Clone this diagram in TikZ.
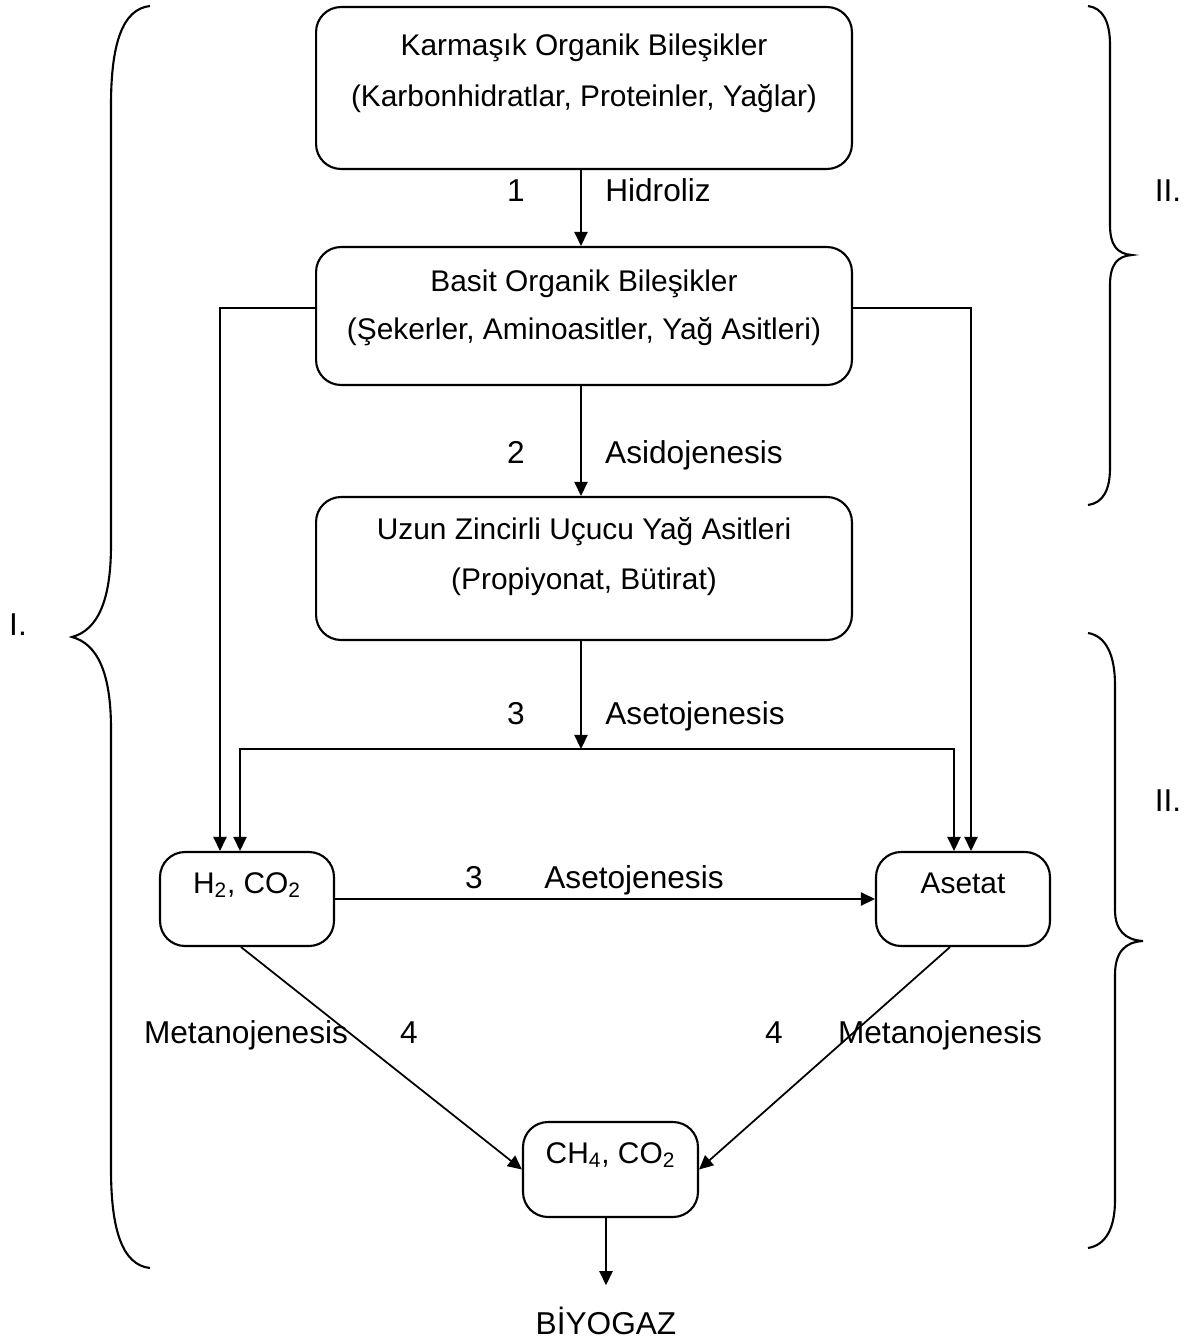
\documentclass[tikz,border=0pt]{standalone}
\usepackage{fontspec}
\setmainfont{Liberation Sans}
\usetikzlibrary{arrows.meta}
\begin{document}
\begin{tikzpicture}[x=0.02cm,y=-0.02cm,
  box/.style={draw, line width=1.2pt, rounded corners=0.5cm, inner sep=0pt},
  boxtext/.style={font=\fontsize{17}{20}\selectfont, inner sep=0pt, anchor=base},
  lbl/.style={font=\fontsize{18}{22}\selectfont, inner sep=0pt, anchor=base},
  flow/.style={line width=1pt, -{Triangle[length=8pt,width=7.5pt]}},
  brace/.style={line width=1.2pt}]
\useasboundingbox (0,0) rectangle (1190,1342);

% process boxes
\node[box, minimum width=10.72cm, minimum height=3.24cm] (b1) at (584,88) {};
\node[box, minimum width=10.72cm, minimum height=2.76cm] (b2) at (584,316) {};
\node[box, minimum width=10.72cm, minimum height=2.86cm] (b3) at (584,568.5) {};
\node[box, minimum width=3.48cm, minimum height=1.88cm] (h2) at (247,899) {};
\node[box, minimum width=3.48cm, minimum height=1.88cm] (ac) at (963,899) {};
\node[box, minimum width=3.5cm, minimum height=1.9cm] (ch) at (610.5,1169.5) {};

% box contents
\node[boxtext] (t1a) at (584,55) {Karmaşık Organik Bileşikler};
\node[boxtext] (t1b) at (584,106) {(Karbonhidratlar, Proteinler, Yağlar)};
\node[boxtext] (t2a) at (584,291) {Basit Organik Bileşikler};
\node[boxtext] (t2b) at (584,339) {(Şekerler, Aminoasitler, Yağ Asitleri)};
\node[boxtext] (t3a) at (584,539) {Uzun Zincirli Uçucu Yağ Asitleri};
\node[boxtext] (t3b) at (584,589) {(Propiyonat, Bütirat)};
\node[boxtext] (th2) at (247,893) {H\textsubscript{2}, CO\textsubscript{2}};
\node[boxtext] (tac) at (963,893) {Asetat};
\node[boxtext] (tch) at (610.5,1163) {CH\textsubscript{4}, CO\textsubscript{2}};
\node[lbl] (bio) at (606,1334) {BİYOGAZ};

% step labels
\node[lbl] (n1) at (516,201) {1};
\node[lbl] (l1) at (658,201) {Hidroliz};
\node[lbl] (n2) at (516,463) {2};
\node[lbl] (l2) at (694,463) {Asidojenesis};
\node[lbl] (n3) at (516,724) {3};
\node[lbl] (l3) at (695,724) {Asetojenesis};
\node[lbl] (n3b) at (474,888) {3};
\node[lbl] (l3b) at (634,888) {Asetojenesis};
\node[lbl] (l4a) at (246,1043) {Metanojenesis};
\node[lbl] (n4a) at (409,1043) {4};
\node[lbl] (n4b) at (774,1043) {4};
\node[lbl] (l4b) at (940,1043) {Metanojenesis};
\node[lbl] (gI) at (18,635) {I.};
\node[lbl] (gII) at (1168,201) {II.};
\node[lbl] (gIIb) at (1168,811) {II.};

% helper positions for the routed connectors
\coordinate (ax) at (581,0);
\coordinate (sp) at (581,749);
\coordinate (yl) at (0,308);
\coordinate (lx1) at (220,0);
\coordinate (lx2) at (240,0);
\coordinate (rx1) at (971,0);
\coordinate (rx2) at (954,0);
\coordinate (dl) at (241,0);
\coordinate (dr) at (950,0);

% main chain
\draw[flow] (b1.south -| ax) -- (b2.north -| ax);
\draw[flow] (b2.south -| ax) -- (b3.north -| ax);
\draw[flow] (b3.south -| ax) -- (sp);
\draw[flow] (sp) -| (h2.north -| lx2);
\draw[flow] (sp) -| (ac.north -| rx2);
\draw[flow] (b2.west |- yl) -| (h2.north -| lx1);
\draw[flow] (b2.east |- yl) -| (ac.north -| rx1);
\draw[flow] (h2.east) -- (ac.west);
\draw[flow] (h2.south -| dl) -- (ch.west);
\draw[flow] (ac.south -| dr) -- (ch.east);
\draw[flow, shorten >=0.42cm] (ch.south -| bio.north) -- (bio.north);

% grouping braces
\draw[brace] (150,6) .. controls (122,9) and (111,45) .. (111,105)
  -- (111,545) .. controls (111,600) and (98,630) .. (72,637)
  .. controls (98,644) and (111,674) .. (111,729)
  -- (111,1169) .. controls (111,1229) and (122,1265) .. (150,1268);
\draw[brace] (1088,6) .. controls (1103,8) and (1110,22) .. (1110,45)
  -- (1110,225) .. controls (1110,245) and (1117,254) .. (1132,255)
  .. controls (1117,256) and (1110,265) .. (1110,285)
  -- (1110,468) .. controls (1110,490) and (1103,503) .. (1088,505);
\draw[brace] (1088,633) .. controls (1106,636) and (1115,655) .. (1115,685)
  -- (1115,910) .. controls (1115,930) and (1125,940) .. (1143,941)
  .. controls (1125,942) and (1115,952) .. (1115,975)
  -- (1115,1200) .. controls (1115,1228) and (1106,1245) .. (1088,1248);
\end{tikzpicture}
\end{document}
